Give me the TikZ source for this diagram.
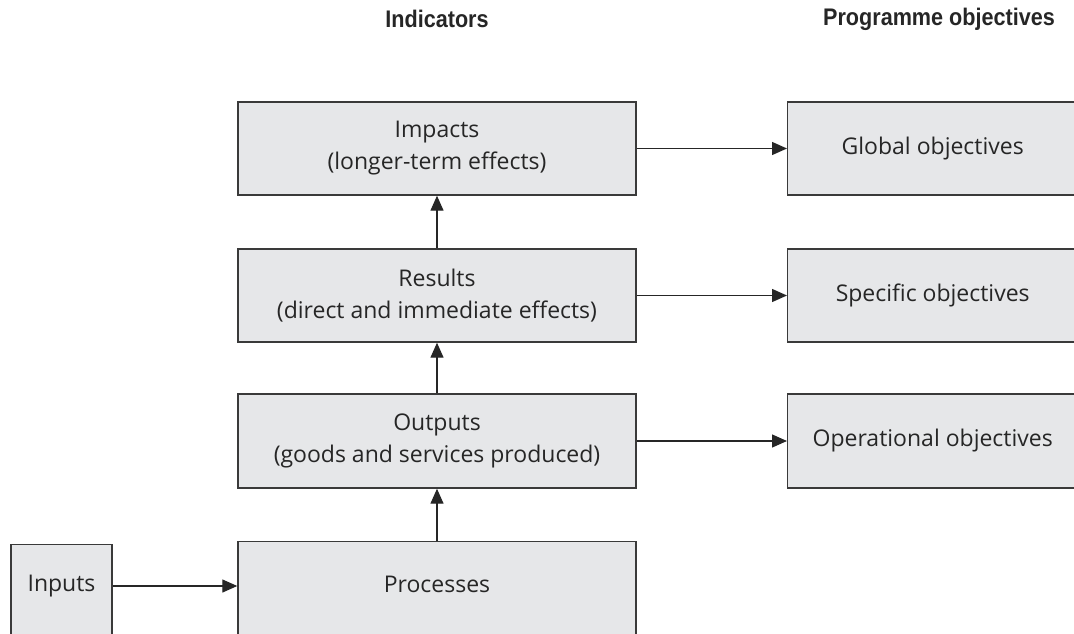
\documentclass[tikz,border=0pt]{standalone}
\usepackage{fontspec}
\setmainfont{Open Sans}
\newfontfamily\headfont[FakeStretch=0.9]{Liberation Sans}
\usetikzlibrary{arrows.meta}
\definecolor{boxfill}{HTML}{E6E7E9}
\definecolor{boxline}{HTML}{3A3A3A}
\tikzset{
  box/.style={draw=boxline, line width=1.4pt, fill=boxfill, inner sep=0pt},
  lbl/.style={font=\fontsize{23}{32}\selectfont, align=center, text=black!85},
  head/.style={font=\headfont\bfseries\fontsize{24}{28}\selectfont, text=black!85},
  arr/.style={draw=black!85, line width=1.3pt, -{Triangle[length=15pt,width=13pt]}}
}
\begin{document}
\begin{tikzpicture}[x=1pt,y=-1pt]
  \path[use as bounding box] (0,0) rectangle (1074,634);
  \clip (0,0) rectangle (1074,634);

  % column headings
  \node[head] (hind) at (437,19) {Indicators};
  \node[head] (hobj) at (939,19) {Programme objectives};

  % indicator chain
  \node[box, lbl, minimum width=398pt, minimum height=93pt] (imp) at (437,148.5)
    {Impacts\\(longer-term effects)};
  \node[box, lbl, minimum width=398pt, minimum height=93pt] (res) at (437,295.5)
    {Results\\(direct and immediate effects)};
  \node[box, lbl, minimum width=398pt, minimum height=94pt] (out) at (437,441)
    {Outputs\\(goods and services produced)};
  \node[box, minimum width=398pt, minimum height=180pt, anchor=north] (proc) at (437,541) {};
  \node[lbl] (proctext) at (437,584) {Processes};
  \node[box, minimum width=101pt, minimum height=180pt, anchor=north] (inp) at (61.5,544) {};
  \node[lbl] (inptext) at (61.5,586) {Inputs};

  % programme objectives
  \node[box, lbl, minimum width=290pt, minimum height=93pt, anchor=west] (glob) at (787,148.5)
    {Global objectives};
  \node[box, lbl, minimum width=290pt, minimum height=93pt, anchor=west] (spec) at (787,295.5)
    {Specific objectives};
  \node[box, lbl, minimum width=290pt, minimum height=94pt, anchor=west] (oper) at (787,441)
    {Operational objectives};

  % connectors
  \draw[arr] (inp.east |- inptext) -- (proc.west |- inptext);
  \draw[arr] (proc.north) -- (out.south);
  \draw[arr] (out.north) -- (res.south);
  \draw[arr] (res.north) -- (imp.south);
  \draw[arr] (imp.east) -- (glob.west);
  \draw[arr] (res.east) -- (spec.west);
  \draw[arr] (out.east) -- (oper.west);
\end{tikzpicture}
\end{document}
